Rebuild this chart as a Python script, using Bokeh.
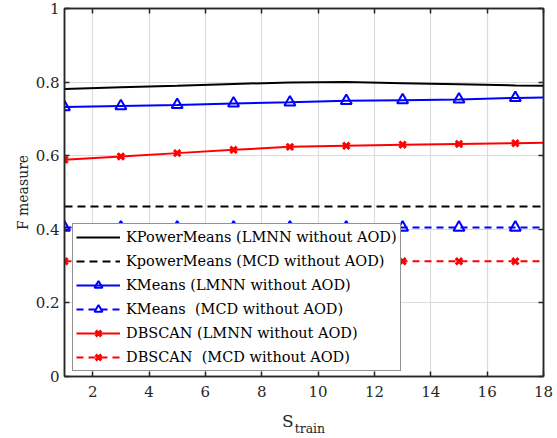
from bokeh.plotting import figure
from bokeh.models import (LinearAxis, FixedTicker, Range1d, Legend, LegendItem)
from bokeh.embed import file_html
from bokeh.resources import INLINE

# ---- data ----
x_line = [1, 3, 5, 7, 9, 11, 13, 15, 17, 18]
x_mark = [1, 3, 5, 7, 9, 11, 13, 15, 17]

kpm_lmnn = [0.781, 0.786, 0.790, 0.795, 0.799, 0.800, 0.797, 0.794, 0.791, 0.790]
kpm_mcd = [0.462, 0.462, 0.462, 0.462, 0.462, 0.462, 0.462, 0.462, 0.462, 0.462]
km_lmnn = [0.732, 0.735, 0.738, 0.742, 0.745, 0.749, 0.751, 0.753, 0.757, 0.758]
km_mcd = [0.405, 0.405, 0.405, 0.405, 0.405, 0.405, 0.405, 0.405, 0.405, 0.405]
db_lmnn = [0.589, 0.598, 0.607, 0.616, 0.624, 0.627, 0.630, 0.632, 0.634, 0.635]
db_mcd = [0.313, 0.313, 0.313, 0.313, 0.313, 0.313, 0.313, 0.313, 0.313, 0.313]

labels = ["KPowerMeans (LMNN without AOD)",
          "KpowerMeans (MCD without AOD)",
          "KMeans (LMNN without AOD)",
          "KMeans  (MCD without AOD)",
          "DBSCAN (LMNN without AOD)",
          "DBSCAN  (MCD without AOD)"]

x_ticks = [2, 4, 6, 8, 10, 12, 14, 16, 18]
y_ticks = [0, 0.2, 0.4, 0.6, 0.8, 1]
y_tick_labels = ["0", "0.2", "0.4", "0.6", "0.8", "1"]
x_title_main = "S"
x_title_sub = "train"
x_title_pos = [8.93, 9.71]

FONT = "DejaVu Serif"
AX = "#262626"

p = figure(width=557, height=438, output_backend="svg", toolbar_location=None,
           x_range=Range1d(1, 18), y_range=Range1d(0, 1),
           min_border_left=64, min_border_right=14, min_border_top=8,
           min_border_bottom=61, background_fill_color="white",
           border_fill_color="white")
p.outline_line_color = AX
p.outline_line_width = 1.5

p.xaxis.ticker = FixedTicker(ticks=x_ticks)
p.yaxis.ticker = FixedTicker(ticks=y_ticks)
p.yaxis.major_label_overrides = {t: l for t, l in zip(y_ticks, y_tick_labels)}
for ax in (p.xaxis[0], p.yaxis[0]):
    ax.major_tick_in = 5
    ax.major_tick_out = 0
    ax.minor_tick_in = 0
    ax.minor_tick_out = 0
    ax.axis_line_color = AX
    ax.axis_line_width = 1.5
    ax.major_tick_line_color = AX
    ax.major_tick_line_width = 1.5
    ax.major_label_text_font = FONT
    ax.major_label_text_font_size = "15px"
    ax.major_label_text_color = AX
p.xaxis.major_label_standoff = 9
p.yaxis.major_label_standoff = 5
p.yaxis.axis_label = "F measure"
p.yaxis.axis_label_text_font = FONT
p.yaxis.axis_label_text_font_size = "14px"
p.yaxis.axis_label_text_font_style = "normal"
p.yaxis.axis_label_text_color = AX
p.yaxis.axis_label_standoff = 2

for loc, tick in (("above", x_ticks), ("right", y_ticks)):
    a = LinearAxis(ticker=FixedTicker(ticks=tick), major_tick_in=5, major_tick_out=0,
                   minor_tick_in=0, minor_tick_out=0, axis_line_color=AX,
                   axis_line_width=1.5, major_tick_line_color=AX,
                   major_tick_line_width=1.5,
                   major_label_overrides={t: "" for t in tick},
                   major_label_standoff=0)
    p.add_layout(a, loc)

# x title "S" with subscript "train", as label-only axes
for txt, pos, size, standoff in ((x_title_main, x_title_pos[0], "17px", 11),
                                 (x_title_sub, x_title_pos[1], "12.5px", -13)):
    a = LinearAxis(ticker=FixedTicker(ticks=[pos]), major_tick_in=0, major_tick_out=0,
                   minor_tick_in=0, minor_tick_out=0, axis_line_color=None,
                   major_tick_line_color=None,
                   major_label_overrides={pos: txt}, major_label_standoff=standoff,
                   major_label_text_font=FONT,
                   major_label_text_font_size=size, major_label_text_color=AX)
    p.add_layout(a, "below")

p.grid.grid_line_color = "#dcdcdc"
p.grid.grid_line_width = 1.2

BLACK, BLUE, RED = "black", "#0000ff", "#ff0000"

items = []
r1 = p.line(x_line, kpm_lmnn, line_color=BLACK, line_width=2)
items.append(LegendItem(label=labels[0], renderers=[r1]))
r2 = p.line(x_line, kpm_mcd, line_color=BLACK, line_width=2, line_dash="8 5")
items.append(LegendItem(label=labels[1], renderers=[r2]))

r3 = p.line(x_line, km_lmnn, line_color=BLUE, line_width=2)
m3 = p.scatter(x_mark, km_lmnn[:9], marker="triangle", size=11, line_color=BLUE,
               line_width=2, fill_color=None)
items.append(LegendItem(label=labels[2], renderers=[r3, m3]))
r4 = p.line(x_line, km_mcd, line_color=BLUE, line_width=2, line_dash="7 5")
m4 = p.scatter(x_mark, km_mcd[:9], marker="triangle", size=11, line_color=BLUE,
               line_width=2, fill_color=None)
items.append(LegendItem(label=labels[3], renderers=[r4, m4]))

r5 = p.line(x_line, db_lmnn, line_color=RED, line_width=2)
m5 = p.scatter(x_mark, db_lmnn[:9], marker="x", size=9, line_color=RED, line_width=3)
items.append(LegendItem(label=labels[4], renderers=[r5, m5]))
r6 = p.line(x_line, db_mcd, line_color=RED, line_width=2, line_dash="7 5")
m6 = p.scatter(x_mark, db_mcd[:9], marker="x", size=9, line_color=RED, line_width=3)
items.append(LegendItem(label=labels[5], renderers=[r6, m6]))

legend = Legend(items=items, location=(8, 5), label_text_font=FONT,
                label_text_font_size="14.5px", label_text_color="black",
                glyph_width=44, glyph_height=20, label_height=20,
                label_standoff=6, spacing=4, padding=3, margin=0,
                border_line_color=AX, border_line_width=1.5,
                background_fill_color="white", background_fill_alpha=1)
p.add_layout(legend)

open("out.html", "w").write(file_html(p, INLINE))
